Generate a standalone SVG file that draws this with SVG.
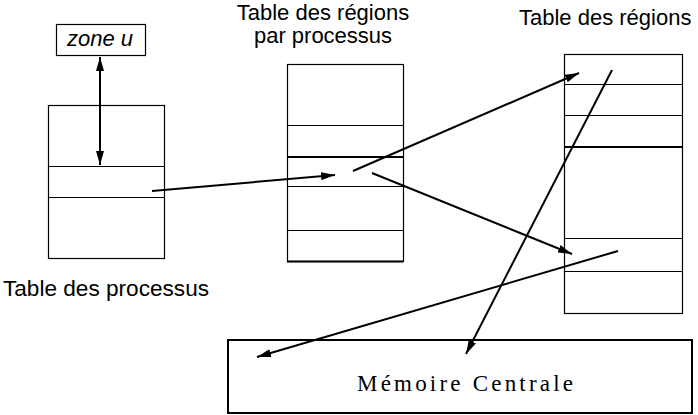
<svg xmlns="http://www.w3.org/2000/svg" width="698" height="415" viewBox="0 0 698 415">
<style>
.box{fill:#fff;stroke:#000;stroke-width:1.2}
.row{stroke:#000;stroke-width:1.2}
.thick{stroke:#000;stroke-width:2.2}
.lbl{font-family:"Liberation Sans",Arial,sans-serif;font-size:22px;fill:#000}
.conn{stroke:#000;stroke-width:2;fill:none}
</style>
<defs>
<marker id="ah" viewBox="0 0 14 8" refX="14" refY="4" markerWidth="14" markerHeight="8" markerUnits="userSpaceOnUse" orient="auto-start-reverse">
<path d="M0,0 L14,4 L0,8 Z" fill="#000"/>
</marker>
</defs>
<rect width="698" height="415" fill="#fff"/>
<g id="zone-u">
<rect class="box" x="56.5" y="24.5" width="89" height="31"/>
<text class="lbl" x="100" y="46" text-anchor="middle" font-style="italic">zone u</text>
</g>
<g id="table-processus">
<rect class="box" x="48.5" y="105.5" width="116" height="153"/>
<line class="row" x1="48" y1="166.5" x2="164" y2="166.5"/>
<line class="row" x1="48" y1="197.5" x2="164" y2="197.5"/>
<text class="lbl" x="3" y="296" textLength="206" lengthAdjust="spacingAndGlyphs">Table des processus</text>
</g>
<g id="table-regions-processus">
<rect class="box" x="287.5" y="64.5" width="116" height="197"/>
<line class="row" x1="287" y1="125.5" x2="403" y2="125.5"/>
<line class="thick" x1="287" y1="157" x2="403" y2="157"/>
<line class="row" x1="287" y1="186.5" x2="403" y2="186.5"/>
<line class="row" x1="287" y1="230.5" x2="403" y2="230.5"/>
<line class="thick" x1="287" y1="261.5" x2="403" y2="261.5"/>
<text class="lbl" x="323" y="20" text-anchor="middle" font-size="21">Table des régions</text>
<text class="lbl" x="323" y="43" text-anchor="middle">par processus</text>
</g>
<g id="table-regions">
<rect class="box" x="564.5" y="54.5" width="118" height="259"/>
<line class="row" x1="564" y1="84.5" x2="682" y2="84.5"/>
<line class="row" x1="564" y1="115.5" x2="682" y2="115.5"/>
<line class="thick" x1="564" y1="147" x2="682" y2="147"/>
<line class="row" x1="564" y1="238.5" x2="682" y2="238.5"/>
<line class="row" x1="564" y1="271.5" x2="682" y2="271.5"/>
<text class="lbl" x="519" y="25">Table des régions</text>
</g>
<g id="memoire-centrale">
<rect x="228" y="340" width="464" height="73" fill="#fff" stroke="#000" stroke-width="2"/>
<text x="357" y="391" font-family="'Liberation Serif','Times New Roman',serif" font-size="23" textLength="216" lengthAdjust="spacing">Mémoire Centrale</text>
</g>
<g id="connectors">
<line class="conn" x1="100" y1="57" x2="100" y2="165" marker-start="url(#ah)" marker-end="url(#ah)"/>
<line class="conn" x1="152" y1="191" x2="335" y2="175" marker-end="url(#ah)"/>
<line class="conn" x1="353" y1="171" x2="579" y2="73" marker-end="url(#ah)"/>
<line class="conn" x1="372" y1="173" x2="572" y2="254" marker-end="url(#ah)"/>
<line class="conn" x1="618" y1="251" x2="257" y2="357" marker-end="url(#ah)"/>
<line class="conn" x1="612" y1="70" x2="466" y2="354" marker-end="url(#ah)"/>
</g>
</svg>
